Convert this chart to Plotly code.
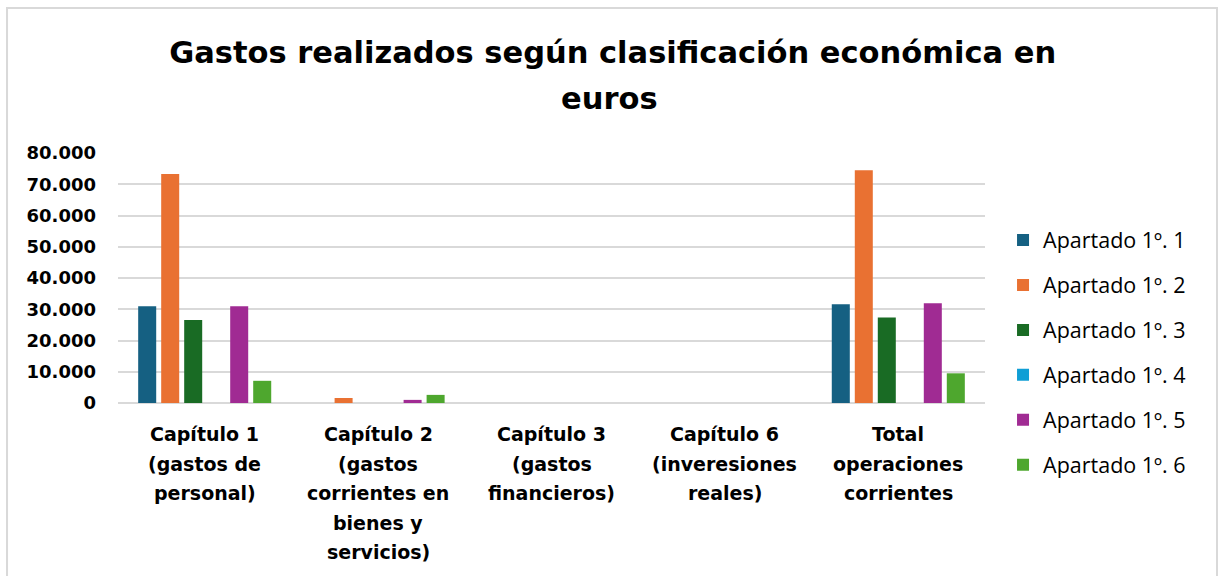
import plotly.graph_objects as go

categories = [
    "Capítulo 1 (gastos de personal)",
    "Capítulo 2 (gastos corrientes en bienes y servicios)",
    "Capítulo 3 (gastos financieros)",
    "Capítulo 6 (inveresiones reales)",
    "Total operaciones corrientes",
]
label_lines = [
    ["Capítulo 1", "(gastos de", "personal)"],
    ["Capítulo 2", "(gastos", "corrientes en", "bienes y", "servicios)"],
    ["Capítulo 3", "(gastos", "financieros)"],
    ["Capítulo 6", "(inveresiones", "reales)"],
    ["Total", "operaciones", "corrientes"],
]
title_lines = ["Gastos realizados según clasificación económica en", "euros"]
series_names = ["Apartado 1º. 1", "Apartado 1º. 2", "Apartado 1º. 3",
                "Apartado 1º. 4", "Apartado 1º. 5", "Apartado 1º. 6"]
ap1 = [31000, 0, 0, 0, 31600]
ap2 = [73300, 1600, 0, 0, 74500]
ap3 = [26600, 0, 0, 0, 27400]
ap4 = [0, 0, 0, 0, 0]
ap5 = [31000, 1000, 0, 0, 31900]
ap6 = [7100, 2600, 0, 0, 9500]
series_values = [ap1, ap2, ap3, ap4, ap5, ap6]
colors = ["#156082", "#E97132", "#196B24", "#0F9ED5", "#A02B93", "#4EA72E"]
y_ticks = [0, 10000, 20000, 30000, 40000, 50000, 60000, 70000, 80000]

fig = go.Figure()
for name, vals, col in zip(series_names, series_values, colors):
    fig.add_trace(go.Bar(x=categories, y=vals, name=name, marker_color=col,
                         marker_line_width=0, legendgroup=name))

title_font = dict(family="DejaVu Sans", size=30.5, color="#000000", weight="bold")
annotations = [dict(
    x=0.567, xref="paper", y=1.22, yref="paper", yanchor="middle",
    text=title_lines[1], showarrow=False, font=title_font,
)]
for cat, lines in zip(categories, label_lines):
    for i, line in enumerate(lines):
        annotations.append(dict(
            x=cat, xref="x", y=0, yref="paper", yanchor="middle",
            yshift=-(31 + 29.5 * i), text=line, showarrow=False,
            font=dict(family="DejaVu Sans", size=19, color="#000000", weight="bold"),
        ))

fig.update_layout(
    width=1218, height=576,
    margin=dict(l=118, r=233, t=153, b=173),
    paper_bgcolor="white", plot_bgcolor="white",
    separators=",.",
    title=dict(
        text=title_lines[0],
        x=0.503, xanchor="center", xref="container",
        y=1 - 52 / 576, yref="container", yanchor="middle",
        font=title_font,
    ),
    barmode="group", bargap=0.204, bargroupgap=0.217,
    showlegend=True,
    legend=dict(x=1.0208, xanchor="left", y=0.734, yanchor="top",
                font=dict(family="Open Sans", size=21.5, color="#000000"),
                tracegroupgap=14, traceorder="grouped", maxheight=500,
                bgcolor="rgba(0,0,0,0)"),
    xaxis=dict(showticklabels=False, showgrid=False, zeroline=False, showline=False),
    yaxis=dict(range=[0, 80000], tickvals=y_ticks, tickformat=",d",
               showgrid=True, gridcolor="#D9D9D9", gridwidth=1.5,
               zeroline=True, zerolinecolor="#D9D9D9", zerolinewidth=1.5,
               showline=False, ticks="", ticklabelstandoff=21,
               tickfont=dict(family="DejaVu Sans", size=18, color="#000000", weight="bold")),
    annotations=annotations,
    shapes=[dict(type="rect", xref="paper", yref="paper",
                 x0=-0.128, x1=1.2676, y0=-0.72, y1=1.58,
                 line=dict(color="#D9D9D9", width=2), fillcolor="rgba(0,0,0,0)",
                 layer="below")],
)

fig.write_html("out.html", config={"displayModeBar": False},
               post_script="document.body.style.margin='0';")
